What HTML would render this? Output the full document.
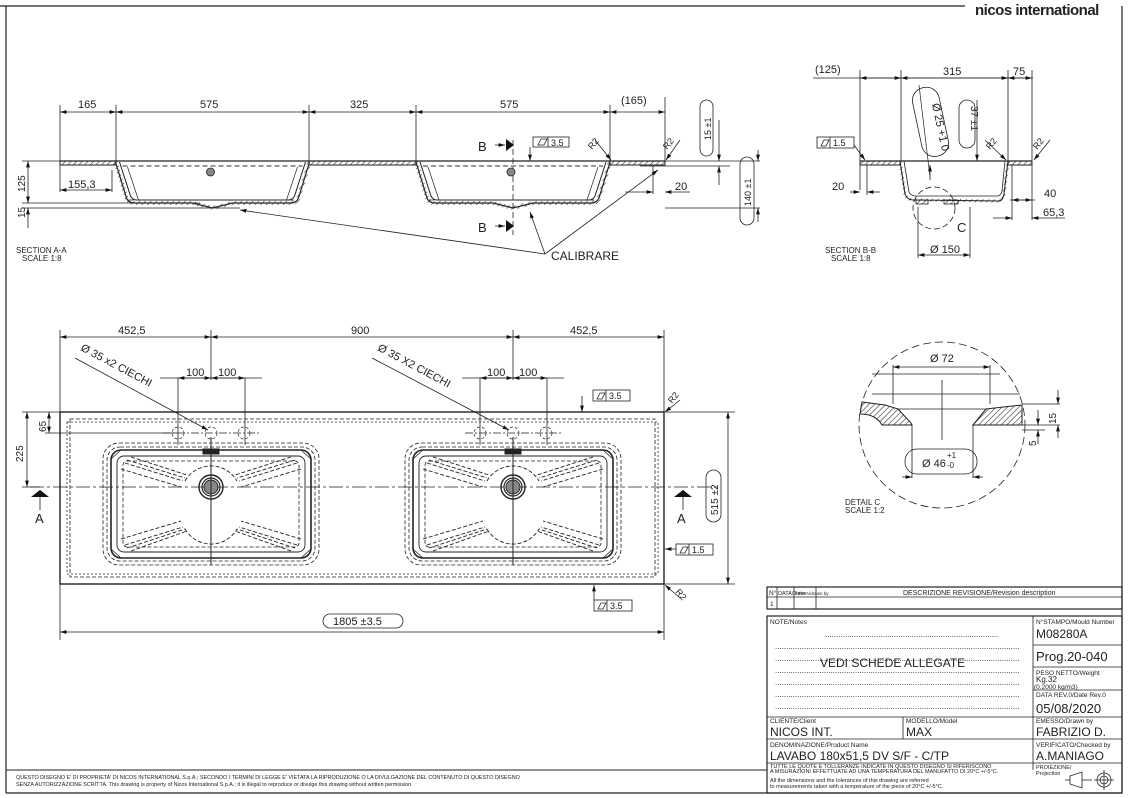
<!DOCTYPE html>
<html><head><meta charset="utf-8"><style>
html,body{margin:0;padding:0;background:#fff;}
svg{display:block;font-family:"Liberation Sans",sans-serif;}
text{fill:#222;}
</style></head><body>
<svg width="1129" height="798" viewBox="0 0 1129 798" xmlns="http://www.w3.org/2000/svg">
<defs>
<pattern id="h" width="4" height="4" patternUnits="userSpaceOnUse" patternTransform="rotate(45)"><line x1="0" y1="0" x2="0" y2="4" stroke="#333" stroke-width="1.2"/></pattern>
<marker id="a" viewBox="0 0 10 6" refX="10" refY="3" markerWidth="8" markerHeight="5" orient="auto-start-reverse"><path d="M0,0L10,3L0,6z" fill="#111"/></marker>
<g id="basin" fill="none" stroke="#222">
<rect x="-108" y="-44" width="216" height="122" rx="16" stroke-dasharray="4,2" stroke-width="0.8"/>
<rect x="-104" y="-40" width="208" height="114" rx="13" stroke-dasharray="4,2" stroke-width="0.8"/>
<rect x="-100" y="-37" width="200" height="108" rx="10" stroke-width="1.6"/>
<rect x="-94" y="-31" width="188" height="96" rx="7" stroke-width="0.9"/>
<rect x="-88" y="-26" width="176" height="86" rx="4" stroke-dasharray="4,2" stroke-width="0.8"/>
<g stroke-dasharray="4,2" stroke-width="0.9">
<path d="M-86,-24L-28,-6M-80,-30L-24,-12M-90,-18L-30,0M-84,-27L-26,-9M-86,58L-28,40M-80,64L-24,44M-90,52L-30,34M-84,61L-26,42"/>
<path d="M86,-24L28,-6M80,-30L24,-12M90,-18L30,0M84,-27L26,-9M86,58L28,40M80,64L24,44M90,52L30,34M84,61L26,42"/>
<path d="M-26,-6A30,30 0 0 1 26,-6M-26,42A30,30 0 0 0 26,42"/>
</g>
<path d="M-100,-28L-90,-37M100,-28L90,-37M-100,62L-90,71M100,62L90,71" stroke-width="0.8"/>
<circle r="12" stroke-width="1.4"/><circle r="9" stroke-width="1.2"/><circle r="7" fill="#888" stroke-width="1"/>
<rect x="-8" y="-38" width="16" height="5" fill="#222"/>
<line x1="0" y1="-50" x2="0" y2="78" stroke-width="1"/>
<g stroke-width="0.7" stroke-dasharray="3,2"><circle cx="-33" cy="-54" r="6"/><circle cx="0" cy="-54" r="6"/><circle cx="33" cy="-54" r="6"/></g>
<line x1="-48" y1="-54" x2="48" y2="-54" stroke-width="0.7" stroke-dasharray="8,2,2,2"/>
</g>
<g id="sec" stroke="#222" fill="none">
<path d="M-97,0L-86,36Q-84,41 -78,41L-20,41L0,46L20,41L78,41Q84,41 86,36L97,0" stroke-width="1.2"/>
<path d="M-93,0L-82,34Q-80,38 -76,38L76,38Q80,38 82,34L93,0" stroke-width="1"/>
<path d="M-97,0L-86,36Q-84,41 -78,41L-20,41L0,46L20,41L78,41Q84,41 86,36L97,0" stroke="url(#h)" stroke-width="4"/>
<line x1="-90" y1="4" x2="90" y2="4" stroke-dasharray="5,3" stroke="#999" stroke-width="2"/>
<line x1="-84" y1="38" x2="84" y2="38" stroke-dasharray="5,3" stroke-width="0.8"/>
<path d="M-85,5L-74,38M85,5L74,38" stroke-width="0.7"/>
<circle cx="-2" cy="10" r="4" fill="#888" stroke-width="0.8"/>
</g>
</defs>

<!-- frame -->
<line x1="0" y1="6" x2="965" y2="6" stroke="#222" stroke-width="1.2"/>
<line x1="6" y1="6" x2="6" y2="793" stroke="#222" stroke-width="1.2"/>
<line x1="1122" y1="6" x2="1122" y2="793" stroke="#222" stroke-width="1.2"/>
<line x1="6" y1="793" x2="1122" y2="793" stroke="#222" stroke-width="1.2"/>
<line x1="6" y1="770" x2="767" y2="770" stroke="#222" stroke-width="1"/>
<text x="975" y="15" font-size="15" font-weight="bold" fill="#000" letter-spacing="-0.5">nicos international</text>
<text x="16" y="779" font-size="5.4">QUESTO DISEGNO E' DI PROPRIETA' DI NICOS INTERNATIONAL S.p.A.; SECONDO I TERMINI DI LEGGE E' VIETATA LA RIPRODUZIONE O LA DIVULGAZIONE DEL CONTENUTO DI QUESTO DISEGNO</text>
<text x="16" y="786" font-size="5.4">SENZA AUTORIZZAZIONE SCRITTA. This drawing is property of Nicos International S.p.A.; it is illegal to reproduce or divulge this drawing without written permission.</text>

<!-- SECTION A-A -->
<g stroke="#222" stroke-width="0.8" fill="none">
<rect x="60" y="161" width="56" height="4" fill="url(#h)" stroke-width="1"/>
<rect x="309" y="161" width="107" height="4" fill="url(#h)" stroke-width="1"/>
<rect x="610" y="161" width="55" height="4" fill="url(#h)" stroke-width="1"/>
<line x1="60" y1="161" x2="665" y2="161" stroke-width="1.3"/>
<path d="M60,105V161M116,105V161M309,105V161M416,105V161M610,105V161M665,97V161"/>
<line x1="60" y1="112" x2="116" y2="112" marker-start="url(#a)" marker-end="url(#a)"/>
<line x1="116" y1="112" x2="309" y2="112" marker-start="url(#a)" marker-end="url(#a)"/>
<line x1="309" y1="112" x2="416" y2="112" marker-start="url(#a)" marker-end="url(#a)"/>
<line x1="416" y1="112" x2="610" y2="112" marker-start="url(#a)" marker-end="url(#a)"/>
<line x1="610" y1="112" x2="665" y2="112" marker-start="url(#a)" marker-end="url(#a)"/>
<path d="M22,161H60M22,203H200M22,208H240"/>
<line x1="28" y1="161" x2="28" y2="203" marker-start="url(#a)" marker-end="url(#a)"/>
<line x1="28" y1="228" x2="28" y2="208" marker-end="url(#a)"/>
<line x1="60" y1="190" x2="112" y2="190" marker-start="url(#a)" marker-end="url(#a)"/>
<path d="M60,165V192M112,170V192"/>
<path d="M665,161H760M640,166H730M665,208H760"/>
<line x1="719" y1="120" x2="719" y2="161" marker-end="url(#a)"/>
<line x1="719" y1="185" x2="719" y2="166" marker-end="url(#a)"/>
<line x1="758" y1="150" x2="758" y2="161" marker-end="url(#a)"/>
<line x1="758" y1="222" x2="758" y2="208" marker-end="url(#a)"/>
<line x1="625" y1="192" x2="653" y2="192" marker-end="url(#a)"/>
<line x1="690" y1="192" x2="665" y2="192" marker-end="url(#a)"/>
<path d="M653,166V194"/>
<line x1="595" y1="140" x2="611" y2="160" marker-end="url(#a)"/>
<line x1="680" y1="140" x2="666" y2="160" marker-end="url(#a)"/>
<line x1="545" y1="254" x2="240" y2="210" marker-end="url(#a)"/>
<line x1="545" y1="254" x2="530" y2="212" marker-end="url(#a)"/>
<line x1="545" y1="254" x2="658" y2="170" marker-end="url(#a)"/>
<line x1="513" y1="140" x2="513" y2="235" stroke-dasharray="6,3"/>
<line x1="495" y1="145" x2="505" y2="145" marker-end="url(#a)"/>
<line x1="495" y1="226" x2="505" y2="226" marker-end="url(#a)"/>
<rect x="533" y="137" width="36" height="10"/><line x1="548" y1="137" x2="548" y2="147"/>
<path d="M538,145l3,-6h6l-3,6z"/><line x1="530" y1="147" x2="530" y2="161" marker-end="url(#a)"/>
<rect x="700" y="100" width="13" height="56" rx="6.5"/>
<rect x="740" y="157" width="14" height="68" rx="7"/>
</g>
<path d="M506,139L514,145L506,151z" fill="#111"/><path d="M506,220L514,226L506,232z" fill="#111"/>
<use href="#sec" x="212.5" y="162"/>
<use href="#sec" x="513" y="162"/>
<g font-size="11">
<text x="78" y="108">165</text><text x="200" y="108">575</text><text x="350" y="108">325</text><text x="500" y="108">575</text><text x="621" y="104">(165)</text>
<text x="68" y="188">155,3</text><text x="675" y="190">20</text>
<text x="478" y="151" font-size="13">B</text><text x="478" y="232" font-size="13">B</text>
<text x="551" y="146" font-size="9">3.5</text>
<text x="551" y="260" font-size="12">CALIBRARE</text>
<text transform="translate(25,192) rotate(-90)" font-size="10">125</text>
<text transform="translate(25,218) rotate(-90)" font-size="10">15</text>
<text transform="translate(711,140) rotate(-90)" font-size="9">15 ±1</text>
<text transform="translate(751,206) rotate(-90)" font-size="9">140 ±1</text>
<text x="16" y="253" font-size="8">SECTION A-A</text><text x="22" y="261" font-size="8">SCALE 1:8</text>
</g>

<!-- SECTION B-B -->
<g stroke="#222" stroke-width="0.8" fill="none">
<rect x="860" y="161" width="40" height="4" fill="url(#h)" stroke-width="1"/>
<rect x="1008" y="161" width="24" height="4" fill="url(#h)" stroke-width="1"/>
<line x1="860" y1="161" x2="1032" y2="161" stroke-width="1.3"/>
<path d="M900,161L905,194Q907,200 914,200L1000,201Q1003,200 1004,194L1008,161" stroke-width="3" stroke="url(#h)"/>
<path d="M900,161L905,194Q907,200 914,200L1000,201Q1003,200 1004,194L1008,161" stroke-width="1"/>
<path d="M904,161L909,192Q911,196 916,196L998,196Q1001,195 1002,191L1005,161" stroke-width="0.8"/>
<rect x="916" y="200" width="12" height="4" fill="url(#h)"/><rect x="944" y="200" width="14" height="4" fill="url(#h)"/>
<circle cx="934" cy="208" r="21" stroke-dasharray="6,3"/>
<path d="M813,78H1033M860,70V190M901,70V161M1008,70V161M1032,70V161"/>
<line x1="860" y1="78" x2="901" y2="78" marker-start="url(#a)" marker-end="url(#a)"/>
<line x1="901" y1="78" x2="1008" y2="78" marker-start="url(#a)" marker-end="url(#a)"/>
<line x1="1008" y1="78" x2="1032" y2="78" marker-start="url(#a)" marker-end="url(#a)"/>
<line x1="850" y1="192" x2="860" y2="192" marker-end="url(#a)"/>
<line x1="880" y1="192" x2="867" y2="192" marker-end="url(#a)"/>
<path d="M867,165V195M1010,200H1035M1012,165V220M1032,165V220"/>
<line x1="1012" y1="200" x2="1032" y2="200" marker-start="url(#a)" marker-end="url(#a)"/>
<line x1="993" y1="218" x2="1012" y2="218" marker-end="url(#a)"/>
<line x1="1065" y1="218" x2="1032" y2="218" marker-end="url(#a)"/>
<path d="M918,207V258M970,207V258"/>
<line x1="918" y1="255" x2="970" y2="255" marker-start="url(#a)" marker-end="url(#a)"/>
<line x1="919" y1="85" x2="930" y2="177" stroke-width="0.7"/>
<rect x="917" y="87" width="27" height="70" rx="13" transform="rotate(-12 930 122)"/>
<rect x="959" y="100" width="16" height="48" rx="8"/>
<line x1="977" y1="100" x2="977" y2="161" marker-end="url(#a)"/>
<line x1="930" y1="180" x2="930" y2="165" marker-end="url(#a)"/>
<rect x="817" y="137" width="37" height="11"/><line x1="830" y1="137" x2="830" y2="148"/>
<path d="M821,146l3,-6h5l-3,6z"/>
<line x1="854" y1="145" x2="865" y2="160" marker-end="url(#a)"/>
<line x1="985" y1="140" x2="1006" y2="160" marker-end="url(#a)"/>
<line x1="1050" y1="140" x2="1034" y2="160" marker-end="url(#a)"/>
</g>
<g font-size="11">
<text x="815" y="73">(125)</text><text x="943" y="75">315</text><text x="1013" y="75">75</text>
<text x="832" y="190">20</text><text x="1044" y="197">40</text><text x="1043" y="216">65,3</text>
<text x="957" y="232" font-size="13">C</text><text x="930" y="253">Ø 150</text>
<text x="833" y="146" font-size="9">1.5</text>
<text transform="translate(932,104) rotate(78)" font-size="11">Ø 25 +1 0</text>
<text transform="translate(971,106) rotate(90)" font-size="10">37 ±1</text>
<text x="825" y="253" font-size="8">SECTION B-B</text><text x="831" y="261" font-size="8">SCALE 1:8</text>
</g>

<!-- DETAIL C -->
<g stroke="#222" stroke-width="0.8" fill="none">
<circle cx="942" cy="425" r="83" stroke-dasharray="8,4"/>
<path d="M862,402L885,405L898,409L911,423L912,425H882Q876,414 860,414Z" fill="url(#h)" stroke-width="1"/>
<path d="M973,425L986,409L1022,405V425Z" fill="url(#h)" stroke-width="1"/>
<path d="M872,394H1020M872,374H1000M898,409H986"/>
<line x1="893" y1="367" x2="990" y2="367" marker-start="url(#a)" marker-end="url(#a)"/>
<path d="M893,365V404M990,365V404M912,425V478M973,425V478M942,380V440"/>
<line x1="902" y1="477" x2="912" y2="477" marker-end="url(#a)"/>
<line x1="983" y1="477" x2="973" y2="477" marker-end="url(#a)"/>
<rect x="905" y="449" width="72" height="25" rx="12"/>
<path d="M1022,404H1060M1022,425H1060M1022,430H1045"/>
<line x1="1058" y1="390" x2="1058" y2="404" marker-end="url(#a)"/>
<line x1="1058" y1="438" x2="1058" y2="425" marker-end="url(#a)"/>
<line x1="1038" y1="410" x2="1038" y2="425" marker-end="url(#a)"/>
<line x1="1038" y1="444" x2="1038" y2="430" marker-end="url(#a)"/>
</g>
<g font-size="11">
<text x="930" y="362">Ø 72</text><text x="922" y="467">Ø 46</text>
<text x="947" y="458" font-size="8">+1</text><text x="947" y="468" font-size="8">-0</text>
<text transform="translate(1056,424) rotate(-90)" font-size="10">15</text>
<text transform="translate(1036,446) rotate(-90)" font-size="10">5</text>
<text x="845" y="505" font-size="8">DETAIL C</text><text x="845" y="513" font-size="8">SCALE 1:2</text>
</g>

<!-- TOP VIEW -->
<g stroke="#222" stroke-width="0.8" fill="none">
<rect x="60" y="412" width="604" height="172" stroke-width="1.4"/>
<rect x="70" y="419" width="585" height="158" stroke-dasharray="4,2"/>
<rect x="67" y="422" width="591" height="152" stroke-dasharray="2,2"/>
<line x1="30" y1="487" x2="720" y2="487" stroke-dasharray="14,3,3,3"/>
<path d="M60,330V412M211,330V380M513,330V380M664,330V640M60,584V640"/>
<line x1="60" y1="337" x2="211" y2="337" marker-start="url(#a)" marker-end="url(#a)"/>
<line x1="211" y1="337" x2="513" y2="337" marker-start="url(#a)" marker-end="url(#a)"/>
<line x1="513" y1="337" x2="664" y2="337" marker-start="url(#a)" marker-end="url(#a)"/>
<line x1="60" y1="632" x2="664" y2="632" marker-start="url(#a)" marker-end="url(#a)"/>
<path d="M160,378H262M178,378V445M245,378V445M480,378V445M547,378V445M462,378H564"/>
<line x1="178" y1="378" x2="211" y2="378" marker-start="url(#a)" marker-end="url(#a)"/>
<line x1="211" y1="378" x2="245" y2="378" marker-start="url(#a)" marker-end="url(#a)"/>
<line x1="480" y1="378" x2="513" y2="378" marker-start="url(#a)" marker-end="url(#a)"/>
<line x1="513" y1="378" x2="547" y2="378" marker-start="url(#a)" marker-end="url(#a)"/>
<line x1="75" y1="358" x2="208" y2="430" marker-end="url(#a)"/>
<line x1="372" y1="358" x2="509" y2="430" marker-end="url(#a)"/>
<path d="M22,412H60M45,433H178M22,487H40"/>
<line x1="27" y1="412" x2="27" y2="487" marker-start="url(#a)" marker-end="url(#a)"/>
<line x1="49" y1="412" x2="49" y2="433" marker-start="url(#a)" marker-end="url(#a)"/>
<path d="M664,412H735M664,584H735"/>
<line x1="728" y1="412" x2="728" y2="584" marker-start="url(#a)" marker-end="url(#a)"/>
<rect x="706" y="470" width="15" height="52" rx="7.5"/>
<path d="M40,490V510M683,490V510"/>
<rect x="593" y="390" width="37" height="11"/><line x1="606" y1="390" x2="606" y2="401"/><path d="M597,399l3,-6h5l-3,6z"/>
<line x1="582" y1="396" x2="582" y2="412" marker-end="url(#a)"/>
<rect x="676" y="544" width="37" height="11"/><line x1="689" y1="544" x2="689" y2="555"/><path d="M680,553l3,-6h5l-3,6z"/>
<line x1="676" y1="549" x2="665" y2="549" marker-end="url(#a)"/>
<rect x="594" y="600" width="38" height="11"/><line x1="607" y1="600" x2="607" y2="611"/><path d="M598,609l3,-6h5l-3,6z"/>
<line x1="594" y1="600" x2="594" y2="585" marker-end="url(#a)"/>
<line x1="680" y1="400" x2="665" y2="412" marker-end="url(#a)"/>
<line x1="680" y1="598" x2="665" y2="585" marker-end="url(#a)"/>
<rect x="323" y="614" width="80" height="14" rx="7" fill="#fff"/>
</g>
<path d="M31,497L40,490L49,497z" fill="#111"/><path d="M674,497L683,490L692,497z" fill="#111"/>
<use href="#basin" x="211" y="487"/>
<use href="#basin" x="513" y="487"/>
<g font-size="11">
<text x="118" y="334">452,5</text><text x="351" y="334">900</text><text x="570" y="334">452,5</text>
<text x="186" y="376">100</text><text x="218" y="376">100</text><text x="487" y="376">100</text><text x="519" y="376">100</text>
<text transform="translate(80,350) rotate(28)" font-size="11">Ø 35 x2 CIECHI</text>
<text transform="translate(377,350) rotate(28)" font-size="11">Ø 35 X2 CIECHI</text>
<text transform="translate(46,432) rotate(-90)" font-size="10">65</text>
<text transform="translate(23,462) rotate(-90)" font-size="10">225</text>
<text transform="translate(718,515) rotate(-90)" font-size="10">515 ±2</text>
<text x="35" y="523" font-size="13">A</text><text x="677" y="523" font-size="13">A</text>
<text x="333" y="625">1805 ±3.5</text>
<text x="609" y="399" font-size="9">3.5</text><text x="692" y="553" font-size="9">1.5</text><text x="610" y="609" font-size="9">3.5</text>
<text transform="translate(672,404) rotate(-50)" font-size="9">R2</text>
<text transform="translate(675,592) rotate(50)" font-size="9">R2</text>
<text transform="translate(592,150) rotate(-50)" font-size="9">R2</text>
<text transform="translate(667,150) rotate(-50)" font-size="9">R2</text>
<text transform="translate(990,150) rotate(-50)" font-size="9">R2</text>
<text transform="translate(1037,150) rotate(-50)" font-size="9">R2</text>
</g>

<!-- TITLE BLOCK -->
<g stroke="#222" stroke-width="0.8" fill="none">
<rect x="767" y="587" width="355" height="22" stroke-width="1.2"/>
<path d="M767,597H1122M777,587V609M794,587V609M816,587V609"/>
<rect x="767" y="616" width="355" height="177" stroke-width="1.2"/>
<path d="M1033,616V770M767,739H1122M767,763H1122M1033,645H1122M1033,667H1122M1033,690H1122M1033,717H1122M767,717H1033M903,717V739"/>
</g>
<g font-size="6.5">
<text x="769" y="595">N°</text><text x="778" y="595" font-size="5.5">DATA/Date</text><text x="795" y="595" font-size="4.5">FIRMA/drawn by</text>
<text x="903" y="595" font-size="7">DESCRIZIONE REVISIONE/Revision description</text>
<text x="770" y="606">1</text>
<text x="770" y="624">NOTE/Notes</text>
<text x="1036" y="624">N°STAMPO/Mould Number</text>
<text x="1036" y="638" font-size="12" fill="#000">M08280A</text>
<text x="1036" y="661" font-size="13">Prog.20-040</text>
<text x="1036" y="675">PESO NETTO/Weight</text>
<text x="1036" y="682" font-size="8">Kg.32</text>
<text x="1034" y="689">(0.2000 kg/m3)</text>
<text x="1036" y="697">DATA REV.0/Date Rev.0</text>
<text x="1036" y="713" font-size="13">05/08/2020</text>
<text x="770" y="723">CLIENTE/Client</text><text x="906" y="723">MODELLO/Model</text><text x="1036" y="723">EMESSO/Drawn by</text>
<text x="770" y="736" font-size="12">NICOS INT.</text><text x="906" y="736" font-size="12">MAX</text><text x="1036" y="736" font-size="12">FABRIZIO D.</text>
<text x="770" y="747">DENOMINAZIONE/Product Name</text><text x="1036" y="747">VERIFICATO/Checked by</text>
<text x="770" y="760" font-size="12">LAVABO 180x51,5 DV S/F - C/TP</text><text x="1036" y="760" font-size="12">A.MANIAGO</text>
<text x="770" y="768" font-size="5.5">TUTTE LE QUOTE E TOLLERANZE INDICATE IN QUESTO DISEGNO SI RIFERISCONO</text>
<text x="770" y="773" font-size="5.5">A MISURAZIONI EFFETTUATE AD UNA TEMPERATURA DEL MANUFATTO DI 20°C +/-5°C.</text>
<text x="770" y="782" font-size="5.5">All the dimensions and the tolerances of this drawing are referred</text>
<text x="770" y="788" font-size="5.5">to measurements taken with a temperature of the piece of 20°C +/-5°C.</text>
<text x="1036" y="769" font-size="5.5">PROIEZIONE/</text><text x="1036" y="775" font-size="5.5">Projection</text>
</g>
<g font-size="8" fill="#444">
<text x="825" y="637">..............................................................................</text>
<text x="775" y="649">..............................................................................................................</text>
<text x="775" y="661">..............................................................................................................</text>
<text x="775" y="673">..............................................................................................................</text>
<text x="775" y="685">..............................................................................................................</text>
<text x="775" y="697">..............................................................................................................</text>
<text x="775" y="709">..............................................................................................................</text>
</g>
<text x="820" y="667" font-size="12">VEDI SCHEDE ALLEGATE</text>
<g stroke="#222" stroke-width="0.8" fill="none">
<path d="M1070,776L1082,772V788L1070,784z"/><line x1="1065" y1="780" x2="1070" y2="780"/><line x1="1082" y1="780" x2="1092" y2="780"/>
<circle cx="1104" cy="780" r="7"/><circle cx="1104" cy="780" r="4"/><path d="M1094,780H1114M1104,770V790"/>
</g>
</svg>
</body></html>
